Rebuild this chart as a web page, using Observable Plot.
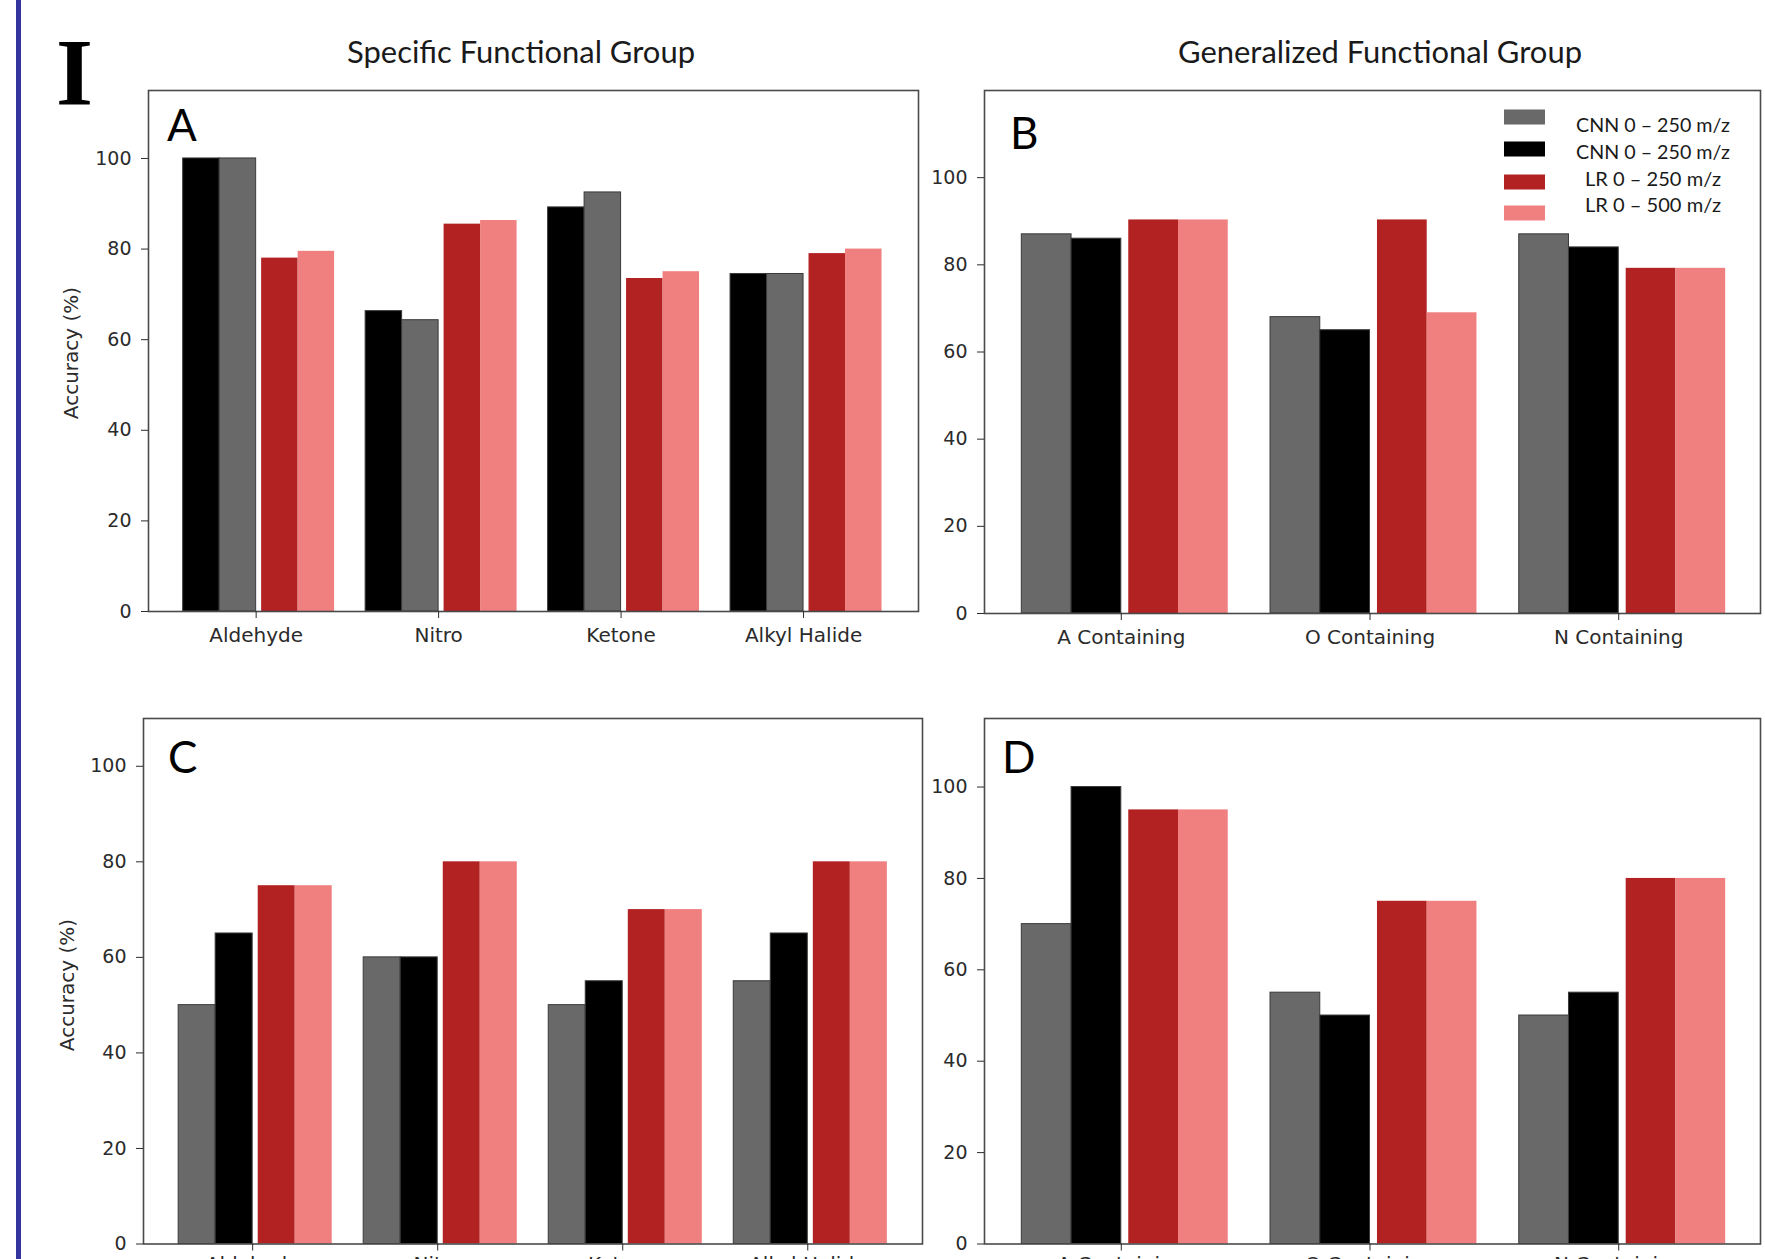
<!DOCTYPE html>
<html><head><meta charset="utf-8">
<script src="https://cdn.jsdelivr.net/npm/d3@7"></script>
<script src="https://cdn.jsdelivr.net/npm/@observablehq/plot@0.6"></script>
<style>
html,body{margin:0;padding:0;background:#fff;width:1765px;height:1259px;overflow:hidden;}
#root{position:relative;width:1765px;height:1259px;overflow:hidden;background:#fff;}
#root svg{position:absolute;}
</style></head><body><div id="root"></div>
<script>
// ---- series ----
const seriesKeys = ["cnnGray", "cnnBlack", "lr250", "lr500"];
const seriesLabels = ["CNN 0 \u2013 250 m/z", "CNN 0 \u2013 250 m/z", "LR 0 \u2013 250 m/z", "LR 0 \u2013 500 m/z"];
const seriesColors = ["#696969", "#000000", "#b22222", "#f08080"];

// ---- categories ----
const specificCategories = ["Aldehyde", "Nitro", "Ketone", "Alkyl Halide"];
const generalCategories = ["A Containing", "O Containing", "N Containing"];
const yTicks = [0, 20, 40, 60, 80, 100];

// ---- Panel A (specific, top) ----
const aCnnGray  = [100, 64.3, 92.5, 74.5];
const aCnnBlack = [100, 66.3, 89.2, 74.5];
const aLr250    = [78, 85.5, 73.5, 79];
const aLr500    = [79.5, 86.3, 75, 80];

// ---- Panel B (generalized, top) ----
const bCnnGray  = [87, 68, 87];
const bCnnBlack = [86, 65, 84];
const bLr250    = [90.3, 90.3, 79.2];
const bLr500    = [90.3, 69, 79.2];

// ---- Panel C (specific, bottom) ----
const cCnnGray  = [50, 60, 50, 55];
const cCnnBlack = [65, 60, 55, 65];
const cLr250    = [75, 80, 70, 80];
const cLr500    = [75, 80, 70, 80];

// ---- Panel D (generalized, bottom) ----
const dCnnGray  = [70, 55, 50];
const dCnnBlack = [100, 50, 55];
const dLr250    = [95, 75, 80];
const dLr500    = [95, 75, 80];

const slotOffsets = [-0.4, -0.2, 0.03, 0.23];
const barWidth = 0.2;

function buildRows(cats, values, order) {
  const rows = [];
  cats.forEach((c, i) => {
    order.forEach((key, s) => {
      const k = seriesKeys.indexOf(key);
      rows.push({
        x1: i + slotOffsets[s],
        x2: i + slotOffsets[s] + barWidth,
        y1: 0,
        y2: values[key][i],
        color: seriesColors[k],
        edge: k < 2 ? "#3a3a3a" : "none"
      });
    });
  });
  return rows;
}

const root = document.getElementById("root");

function panel(cfg) {
  const rows = buildRows(cfg.cats, cfg.values, cfg.order);
  const n = cfg.cats.length;
  const svg = Plot.plot({
    width: cfg.width, height: cfg.height,
    marginLeft: cfg.ml, marginRight: cfg.mr, marginTop: cfg.mt, marginBottom: cfg.mb,
    x: {domain: cfg.xDomain},
    y: {domain: cfg.yDomain},
    color: {type: "identity"},
    style: {fontFamily: "DejaVu Sans", color: "#2b2b2b", background: "transparent", overflow: "visible"},
    marks: [
      Plot.rect(rows, {x1: "x1", x2: "x2", y1: "y1", y2: "y2", fill: "color", stroke: "edge", strokeWidth: 1}),
      Plot.frame({stroke: "#4a4a4a", strokeWidth: 1.6}),
      Plot.axisY({ticks: yTicks, tickSize: 7, tickPadding: 10, fontSize: 19, label: null}),
      Plot.axisX({ticks: d3.range(n), tickFormat: i => cfg.cats[i], tickSize: 7, tickPadding: cfg.xPad, fontSize: 20, label: null})
    ]
  });
  svg.style.left = cfg.left + "px";
  svg.style.top = cfg.top + "px";
  root.appendChild(svg);
}

panel({cats: specificCategories, order: ["cnnBlack", "cnnGray", "lr250", "lr500"],
  values: {cnnGray: aCnnGray, cnnBlack: aCnnBlack, lr250: aLr250, lr500: aLr500},
  left: 0, top: 0, width: 950, height: 680, ml: 148, mr: 32, mt: 90, mb: 69, xPad: 9,
  xDomain: [-0.59, 3.63], yDomain: [0, 115]});

panel({cats: generalCategories, order: seriesKeys,
  values: {cnnGray: bCnnGray, cnnBlack: bCnnBlack, lr250: bLr250, lr500: bLr500},
  left: 900, top: 0, width: 865, height: 680, ml: 84, mr: 5, mt: 90, mb: 67, xPad: 9,
  xDomain: [-0.55, 2.57], yDomain: [0, 120]});

panel({cats: specificCategories, order: seriesKeys,
  values: {cnnGray: cCnnGray, cnnBlack: cCnnBlack, lr250: cLr250, lr500: cLr500},
  left: 0, top: 690, width: 950, height: 620, ml: 143, mr: 28, mt: 28, mb: 66.5, xPad: 6,
  xDomain: [-0.59, 3.62], yDomain: [0, 110]});

panel({cats: generalCategories, order: seriesKeys,
  values: {cnnGray: dCnnGray, cnnBlack: dCnnBlack, lr250: dLr250, lr500: dLr500},
  left: 900, top: 690, width: 865, height: 620, ml: 84, mr: 5, mt: 28, mb: 66.5, xPad: 6,
  xDomain: [-0.55, 2.57], yDomain: [0, 115]});

// ---- annotations overlay ----
const ov = d3.select(root).append("svg")
  .attr("width", 1765).attr("height", 1259)
  .style("left", "0px").style("top", "0px").style("pointer-events", "none");

ov.append("rect").attr("x", 16).attr("y", 0).attr("width", 5).attr("height", 1259).attr("fill", "#34349e");

ov.append("text").text("I").attr("x", 74.5).attr("y", 105).attr("text-anchor", "middle")
  .attr("font-family", "Liberation Serif").attr("font-weight", "bold").attr("font-size", 95).attr("fill", "#000");

const panelTitles = ["Specific Functional Group", "Generalized Functional Group"];
[[521, panelTitles[0], 348], [1380, panelTitles[1], 404]].forEach(([x, t, w]) => {
  ov.append("text").text(t).attr("x", x).attr("y", 63).attr("text-anchor", "middle")
    .attr("textLength", w).attr("lengthAdjust", "spacingAndGlyphs")
    .attr("font-family", "Lato").attr("font-size", 30).attr("fill", "#1a1a1a");
});

const panelLetters = ["A", "B", "C", "D"];
[[167, 141], [1010, 149], [168, 773], [1002, 773]].forEach(([x, y], i) => {
  ov.append("text").text(panelLetters[i]).attr("x", x).attr("y", y)
    .attr("font-family", "Lato").attr("font-size", 44).attr("fill", "#000");
});

const yLabel = "Accuracy (%)";
[[71, 353], [67, 985]].forEach(([x, y]) => {
  ov.append("text").text(yLabel).attr("transform", `translate(${x},${y}) rotate(-90)`)
    .attr("text-anchor", "middle").attr("dy", "0.35em")
    .attr("font-family", "DejaVu Sans").attr("font-size", 20).attr("fill", "#2b2b2b");
});

// legend
const swatchY = [117, 149, 182, 213];
const textY = [132, 159, 186, 212];
const textW = [154, 154, 136, 136];
seriesLabels.forEach((lab, i) => {
  ov.append("rect").attr("x", 1504).attr("y", swatchY[i] - 7.5).attr("width", 41).attr("height", 15)
    .attr("fill", seriesColors[i]);
  ov.append("text").text(lab).attr("x", 1653).attr("y", textY[i]).attr("text-anchor", "middle")
    .attr("textLength", textW[i]).attr("lengthAdjust", "spacingAndGlyphs")
    .attr("font-family", "Lato").attr("font-size", 20).attr("fill", "#1a1a1a");
});
</script>
</body></html>
